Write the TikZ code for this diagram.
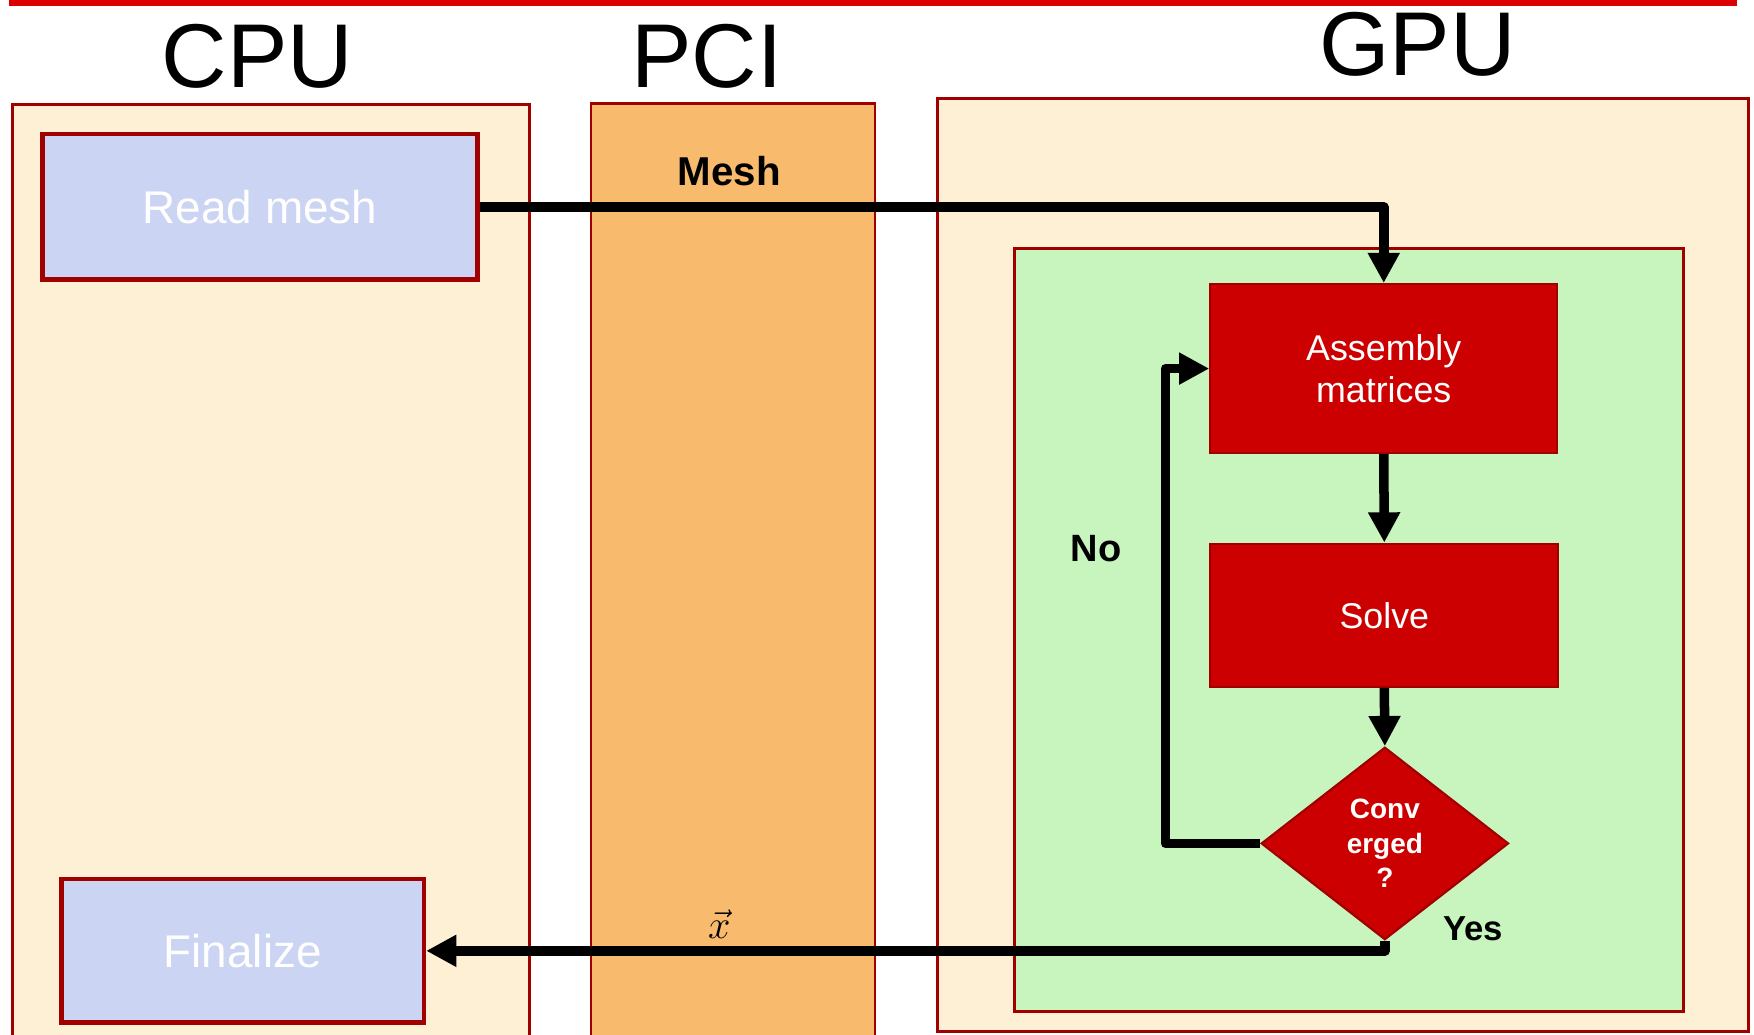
\RequirePackage{fix-cm}
\documentclass[tikz,border=0pt]{standalone}
\usepackage{fontspec}
\setmainfont{Liberation Sans}
\usetikzlibrary{arrows.meta,shapes.geometric}
\definecolor{cream}{HTML}{FEF0D4}
\definecolor{pciorange}{HTML}{F8BA6C}
\definecolor{loopgreen}{HTML}{C8F4BE}
\definecolor{lavender}{HTML}{CBD4F2}
\definecolor{boxred}{HTML}{CC0000}
\definecolor{edgered}{HTML}{A00000}
\definecolor{barred}{HTML}{DD0000}
\tikzset{
  lanebox/.style={draw=edgered, line width=2.5pt, rectangle, anchor=north west, inner sep=0pt},
  hostbox/.style={draw=edgered, line width=4pt, fill=lavender, rectangle, inner sep=0pt, text=white, font=\fontsize{41}{46}\selectfont},
  gpubox/.style={draw=edgered, line width=2pt, fill=boxred, rectangle, inner sep=0pt, text=white, align=center, font=\fontsize{32}{38}\selectfont},
  decision/.style={diamond, draw=edgered, line width=2pt, fill=boxred, inner sep=0pt, text=white, align=center, font=\bfseries\fontsize{25}{31}\selectfont},
  title/.style={font=\fontsize{81}{90}\selectfont, inner sep=0pt},
  lbl/.style={font=\bfseries\fontsize{34}{40}\selectfont, inner sep=0pt},
  flow/.style={line width=8.5pt, line join=round, -{Triangle[length=27pt,width=27pt]}}
}
\begin{document}
\begin{tikzpicture}[x=1pt,y=-1pt]
\useasboundingbox (0,0) rectangle (1568,925);
\clip (0,0) rectangle (1568,925);
% top bar
\fill[barred] (8,0) rectangle (1553,5);
% titles
\node[title] (tcpu) at (230,50) {CPU};
\node[title] (tpci) at (632,50) {PCI};
\node[title] (tgpu) at (1267,40) {GPU};
% lanes
\node[lanebox, fill=cream, minimum width=462pt, minimum height=860pt] (cpulane) at (10,92) {};
\node[lanebox, fill=pciorange, minimum width=254pt, minimum height=860pt] (pcilane) at (527,91) {};
\node[lanebox, fill=cream, minimum width=725pt, minimum height=834pt] (gpulane) at (837,87) {};
\node[lanebox, fill=loopgreen, minimum width=598pt, minimum height=682pt] (loop) at (906,221) {};
% host boxes
\node[hostbox, minimum width=389pt, minimum height=130pt] (read) at (232.5,185) {Read mesh};
\node[hostbox, minimum width=324pt, minimum height=128pt] (fin) at (217,850) {Finalize};
% gpu boxes
\node[gpubox, minimum width=310pt, minimum height=151pt] (asm) at (1237,329.5) {Assembly\\matrices};
\node[gpubox, minimum width=311pt, minimum height=128pt] (solve) at (1237.5,550) {Solve};
\node[decision, minimum width=221pt, minimum height=172pt] (conv) at (1238,754) {Conv\\erged\\?};
% labels
\node[lbl, font=\bfseries\fontsize{36}{40}\selectfont] (mesh) at (652,153) {Mesh};
\node[lbl] (no) at (980,490) {No};
\node[lbl, font=\bfseries\fontsize{31}{36}\selectfont] (yes) at (1317,830) {Yes};
\node[inner sep=0pt, font=\fontsize{36}{40}\selectfont] (xv) at (643,826) {$\vec{x}$};
% connectors
\coordinate (c1) at (1237,185);
\draw[flow] (read.east) -- (c1) -- (asm.north);
\draw[flow] (asm.south) -- (solve.north);
\draw[flow] (solve.south) -- (conv.north);
\coordinate (c2) at (1042,754);
\coordinate (c3) at (1042,329.5);
\draw[flow] (conv.west) -- (c2) -- (c3) -- (asm.west);
\coordinate (c4) at (1238,850);
\draw[flow] (conv.south) -- (c4) -- (fin.east);
\end{tikzpicture}
\end{document}
